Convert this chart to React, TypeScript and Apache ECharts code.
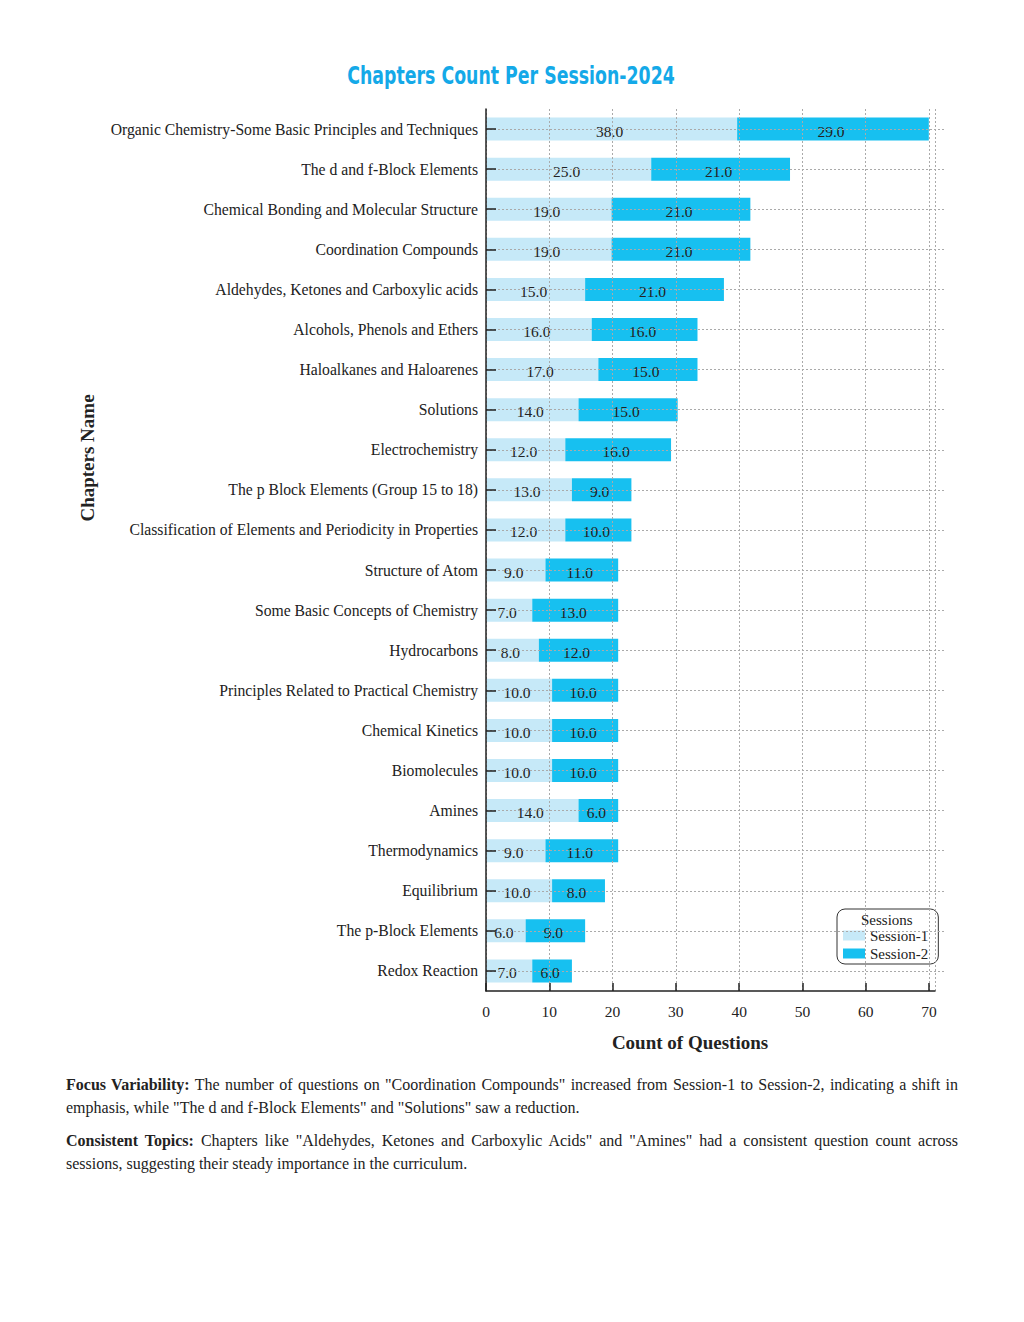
import React, { useEffect, useRef } from "react";
import * as echarts from "echarts";

const chapters = [
  "Organic Chemistry-Some Basic Principles and Techniques",
  "The d and f-Block Elements",
  "Chemical Bonding and Molecular Structure",
  "Coordination Compounds",
  "Aldehydes, Ketones and Carboxylic acids",
  "Alcohols, Phenols and Ethers",
  "Haloalkanes and Haloarenes",
  "Solutions",
  "Electrochemistry",
  "The p Block Elements (Group 15 to 18)",
  "Classification of Elements and Periodicity in Properties",
  "Structure of Atom",
  "Some Basic Concepts of Chemistry",
  "Hydrocarbons",
  "Principles Related to Practical Chemistry",
  "Chemical Kinetics",
  "Biomolecules",
  "Amines",
  "Thermodynamics",
  "Equilibrium",
  "The p-Block Elements",
  "Redox Reaction",
];
const session1 = [38, 25, 19, 19, 15, 16, 17, 14, 12, 13, 12, 9, 7, 8, 10, 10, 10, 14, 9, 10, 6, 7];
const session2 = [29, 21, 21, 21, 21, 16, 15, 15, 16, 9, 10, 11, 13, 12, 10, 10, 10, 6, 11, 8, 9, 6];
const seriesNames = ["Session-1", "Session-2"];
const chartTitle = "Chapters Count Per Session-2024";

const SERIF = "'Liberation Serif', 'Times New Roman', serif";
const TXT = "#222";
const LIGHT = "#c6e9f8";
const DARK = "#17c0f0";

export default function App() {
  const ref = useRef<HTMLDivElement>(null);
  useEffect(() => {
    if (!ref.current) return;
    const chart = echarts.init(ref.current, null, { renderer: "svg" });
    const gridLine = { show: true, lineStyle: { color: "#aaa", type: [2, 2] as any, width: 1 } };
    const labelCfg = {
      show: true,
      position: "inside" as const,
      color: TXT,
      fontFamily: SERIF,
      fontSize: 15.5,
      offset: [-2, 2],
      formatter: (p: any) => Number(p.value).toFixed(1),
    };
    chart.setOption({
      animation: false,
      grid: [
        { left: 486, right: 78, top: 109, bottom: 79, containLabel: false },
        { left: 486, right: 89, top: 109, bottom: 79, containLabel: false },
      ],
      xAxis: [
        { type: "value", gridIndex: 0, min: 0, max: 69.6, show: false },
        {
          type: "value",
          gridIndex: 1,
          min: 0,
          max: 70.95,
          interval: 10,
          z: 5,
          axisLine: { show: true, lineStyle: { color: "#222", width: 1.5 } },
          axisTick: { show: true, inside: true, length: 8, lineStyle: { color: "#222", width: 1.5 } },
          axisLabel: { color: TXT, fontFamily: SERIF, fontSize: 15.5, margin: 12 },
          splitLine: gridLine,
        },
      ],
      yAxis: [
        {
          type: "category",
          gridIndex: 0,
          data: chapters,
          inverse: true,
          z: 5,
          axisLine: { show: true, lineStyle: { color: "#222", width: 1.5 } },
          axisTick: { show: true, inside: true, length: 10, alignWithLabel: true, lineStyle: { color: "#222", width: 1.5 } },
          axisLabel: { color: TXT, fontFamily: SERIF, fontSize: 15.7, margin: 8 },
          splitLine: { ...gridLine, alignWithLabel: true },
        },
        { type: "category", gridIndex: 1, data: chapters, inverse: true, show: false },
      ],
      legend: {
        data: seriesNames,
        orient: "vertical",
        left: 837,
        top: 909,
        icon: "rect",
        itemWidth: 22,
        itemHeight: 10,
        itemGap: 3,
        itemTextGap: 3,
        padding: [19, 10, 3, 6],
        borderColor: "#333",
        borderWidth: 1,
        borderRadius: 8,
        backgroundColor: "#fff",
        textStyle: { color: TXT, fontFamily: SERIF, fontSize: 15 },
      },
      graphic: [
        {
          type: "text",
          x: 511,
          y: 76,
          scaleX: 0.723,
          style: {
            text: chartTitle,
            fill: "#14a9e8",
            font: "bold 24px 'DejaVu Sans', sans-serif",
            align: "center",
            verticalAlign: "middle",
          },
        },
        {
          type: "text",
          left: 861,
          top: 912,
          z: 100,
          style: { text: "Sessions", fill: TXT, font: `15px ${SERIF}` },
        },
        {
          type: "text",
          x: 87,
          y: 458,
          rotation: Math.PI / 2,
          style: {
            text: "Chapters Name",
            fill: TXT,
            font: `bold 19px ${SERIF}`,
            align: "center",
            verticalAlign: "middle",
          },
        },
        {
          type: "text",
          x: 690,
          y: 1042,
          style: {
            text: "Count of Questions",
            fill: TXT,
            font: `bold 19px ${SERIF}`,
            align: "center",
            verticalAlign: "middle",
          },
        },
      ],
      series: [
        {
          name: seriesNames[0],
          type: "bar",
          stack: "total",
          xAxisIndex: 0,
          yAxisIndex: 0,
          data: session1,
          barWidth: 23,
          itemStyle: { color: LIGHT },
          label: labelCfg,
        },
        {
          name: seriesNames[1],
          type: "bar",
          stack: "total",
          xAxisIndex: 0,
          yAxisIndex: 0,
          data: session2,
          barWidth: 23,
          itemStyle: { color: DARK },
          label: labelCfg,
        },
      ],
    });
    return () => chart.dispose();
  }, []);

  const pStyle: React.CSSProperties = {
    margin: "0 0 10px 0",
    textAlign: "justify",
    lineHeight: "23px",
    fontSize: 16,
    color: TXT,
    fontFamily: SERIF,
  };

  return (
    <div style={{ position: "absolute", left: 0, top: 0, width: 1024, height: 1322, background: "#fff" }}>
      <div ref={ref} style={{ position: "absolute", left: 0, top: 0, width: 1024, height: 1070 }} />
      <div style={{ position: "absolute", left: 66, top: 1073, width: 892 }}>
        <p style={pStyle}>
          <b>Focus Variability:</b> The number of questions on "Coordination Compounds" increased from Session-1 to
          Session-2, indicating a shift in emphasis, while "The d and f-Block Elements" and "Solutions" saw a reduction.
        </p>
        <p style={pStyle}>
          <b>Consistent Topics:</b> Chapters like "Aldehydes, Ketones and Carboxylic Acids" and "Amines" had a consistent
          question count across sessions, suggesting their steady importance in the curriculum.
        </p>
      </div>
    </div>
  );
}
